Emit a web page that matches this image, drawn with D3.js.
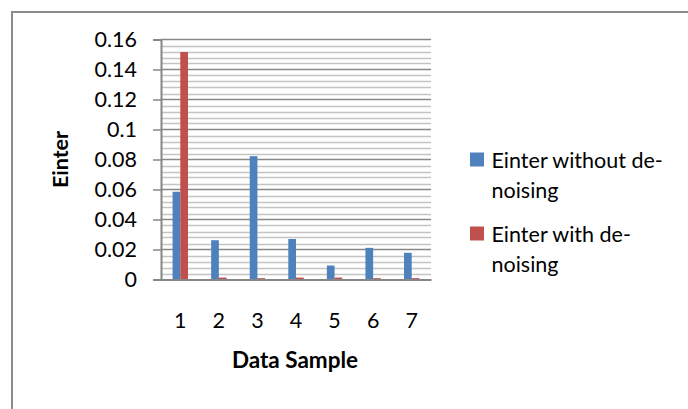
<!DOCTYPE html>
<html>
<head>
<meta charset="utf-8">
<script src="https://cdn.jsdelivr.net/npm/d3@7"></script>
<style>
  html, body { margin: 0; padding: 0; background: #fff; }
  svg { display: block; }
  text { font-family: Lato, "Open Sans", sans-serif; fill: #000; }
</style>
</head>
<body>
<div id="chart"></div>
<script>
// Sample numbers along the x axis
const categories = ["1", "2", "3", "4", "5", "6", "7"];
// Series names, as shown in the legend
const seriesNames = ["Einter without de-noising", "Einter with de-noising"];
const legendLines = [["Einter without de-", "noising"], ["Einter with de-", "noising"]];
// Einter values for each sample
const withoutDenoising = [0.0585, 0.0262, 0.0822, 0.0270, 0.0093, 0.0211, 0.0178];
const withDenoising = [0.1517, 0.0013, 0.0009, 0.0013, 0.0013, 0.0009, 0.0009];
// Value-axis tick labels
const yTicks = [0, 0.02, 0.04, 0.06, 0.08, 0.1, 0.12, 0.14, 0.16];

const colors = ["#4F81BD", "#C0504D"];
const W = 688, H = 409;
const FS = 21.5;

const svg = d3.select("#chart").append("svg")
  .attr("width", W).attr("height", H);

// Chart-area frame
svg.append("rect")
  .attr("x", 12).attr("y", 12)
  .attr("width", W).attr("height", H)
  .attr("fill", "none").attr("stroke", "#8c8c8c").attr("stroke-width", 2);

const plot = { left: 161, right: 431, top: 39.5, bottom: 279.5 };

const x = d3.scaleBand().domain(categories)
  .range([plot.left, plot.right]).paddingInner(0).paddingOuter(0);
const y = d3.scaleLinear().domain([0, 0.16]).range([plot.bottom, plot.top]);

// Minor gridlines every 0.004
const minor = d3.range(0, 0.1601, 0.004).filter(v => Math.abs(Math.round(v / 0.02) * 0.02 - v) > 1e-6);
svg.append("g").selectAll("line").data(minor).join("line")
  .attr("x1", plot.left).attr("x2", plot.right)
  .attr("y1", d => Math.round(y(d)) + 0.5).attr("y2", d => Math.round(y(d)) + 0.5)
  .attr("stroke", "#c4c4c4").attr("stroke-width", 1.5);

// Major gridlines
svg.append("g").selectAll("line").data(yTicks.slice(1)).join("line")
  .attr("x1", plot.left).attr("x2", plot.right)
  .attr("y1", d => y(d)).attr("y2", d => y(d))
  .attr("stroke", "#888888").attr("stroke-width", 1.5);

// Bars: two adjacent columns per sample
const sub = d3.scaleBand().domain([0, 1]).range([0, 15.4]);
const groups = svg.append("g").selectAll("g").data(categories).join("g")
  .attr("transform", d => `translate(${x(d) + x.bandwidth() / 2 - 7.7},0)`);
groups.selectAll("rect")
  .data((d, i) => [withoutDenoising[i], withDenoising[i]])
  .join("rect")
  .attr("x", (d, j) => sub(j))
  .attr("width", sub.bandwidth())
  .attr("y", d => y(d))
  .attr("height", d => y(0) - y(d))
  .attr("fill", (d, j) => colors[j]);

// Value axis
const yAxis = d3.axisLeft(y).tickValues(yTicks)
  .tickFormat(d => d3.format("")(+d.toFixed(2)))
  .tickSize(8).tickPadding(16);
const ya = svg.append("g").attr("transform", `translate(${plot.left},0)`).call(yAxis);
ya.select(".domain").attr("stroke", "#868686").attr("stroke-width", 2);
ya.selectAll(".tick line").attr("stroke", "#868686").attr("stroke-width", 1.5);
ya.selectAll(".tick text").attr("font-size", FS).attr("font-family", "Lato, sans-serif").attr("fill", "#000");

// Category axis
const xAxis = d3.axisBottom(x).tickSize(0);
const xa = svg.append("g").attr("transform", `translate(0,${plot.bottom})`).call(xAxis);
xa.select(".domain").attr("stroke", "#868686").attr("stroke-width", 2);
xa.selectAll(".tick text")
  .attr("y", 48.5).attr("dy", 0)
  .attr("font-size", FS).attr("font-family", "Lato, sans-serif").attr("fill", "#000");

// Axis titles
svg.append("text")
  .attr("transform", "translate(68,159.5) rotate(-90)")
  .attr("text-anchor", "middle")
  .attr("font-size", 21.5).attr("font-weight", "bold")
  .text("Einter");
svg.append("text")
  .attr("x", 295).attr("y", 368)
  .attr("text-anchor", "middle")
  .attr("font-size", 22.5).attr("font-weight", "bold")
  .text("Data Sample");

// Legend
const legend = svg.append("g").selectAll("g").data(seriesNames).join("g")
  .attr("transform", (d, i) => `translate(470,${152.5 + i * 74})`);
legend.append("rect")
  .attr("width", 14).attr("height", 14)
  .attr("fill", (d, i) => colors[i]);
legend.append("text")
  .attr("y", 15)
  .attr("font-size", FS)
  .selectAll("tspan").data((d, i) => legendLines[i]).join("tspan")
  .attr("x", 21.5).attr("dy", (d, k) => k === 0 ? 0 : 30)
  .text(d => d);
</script>
</body>
</html>
